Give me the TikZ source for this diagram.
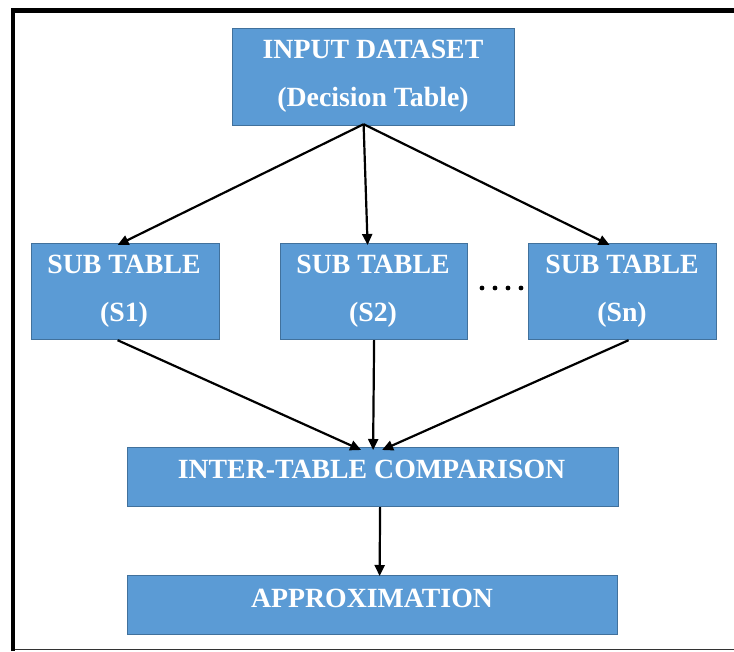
\documentclass[tikz,border=0pt]{standalone}
\usepackage{fontspec}
\setmainfont{Liberation Serif}
\usetikzlibrary{arrows.meta}
\definecolor{boxfill}{HTML}{5B9BD5}
\definecolor{boxline}{HTML}{41719C}
\begin{document}
\begin{tikzpicture}[x=1pt,y=-1pt,
  blk/.style={draw=boxline, fill=boxfill, line width=1.2pt, inner sep=0pt, anchor=north west},
  lbl/.style={text=white, font=\fontsize{27.8}{28}\selectfont\bfseries, anchor=base, inner sep=0pt},
  arr/.style={-{Triangle[length=11pt,width=10pt]}, line width=2.2pt}]
\useasboundingbox (0,0) rectangle (734,651);
% frame
\draw[line width=4.4pt] (13,651) -- (13,10.5) -- (734,10.5);
\draw[line width=1pt, black!80] (15,649) -- (734,649);
% boxes
\node[blk, minimum width=282pt, minimum height=97pt] (in) at (232,28) {};
\node[blk, minimum width=188pt, minimum height=96pt] (s1) at (31,243) {};
\node[blk, minimum width=187pt, minimum height=96pt] (s2) at (280,243) {};
\node[blk, minimum width=188pt, minimum height=96pt] (sn) at (528,243) {};
\node[blk, minimum width=491pt, minimum height=59pt] (cmp) at (127,447) {};
\node[blk, minimum width=490pt, minimum height=59pt] (apx) at (127,575) {};
% labels
\node[lbl] (t1) at (373,58) {INPUT DATASET};
\node[lbl] (t2) at (373,106) {(Decision Table)};
\node[lbl] (t3) at (124,273) {SUB TABLE};
\node[lbl] (t4) at (124,321) {(S1)};
\node[lbl] (t5) at (373,273) {SUB TABLE};
\node[lbl] (t6) at (373,321) {(S2)};
\node[lbl] (t7) at (622,273) {SUB TABLE};
\node[lbl] (t8) at (622,321) {(Sn)};
\node[lbl] (t9) at (371.5,478) {INTER-TABLE COMPARISON};
\node[lbl] (t10) at (372,607) {APPROXIMATION};
% dots
\foreach \i/\xx in {1/482,2/495,3/508,4/521}
  \fill (\xx,288) circle (2.4pt);
% arrows
\draw[arr] ([xshift=-10pt,yshift=2pt]in.south) -- ([xshift=-8pt,yshift=-2pt]s1.north);
\draw[arr] ([xshift=-10pt,yshift=2pt]in.south) -- ([xshift=-6.5pt,yshift=-2pt]s2.north);
\draw[arr] ([xshift=-10pt,yshift=2pt]in.south) -- ([xshift=-13pt,yshift=-2pt]sn.north);
\draw[arr] ([xshift=-8pt]s1.south) -- ([xshift=-12pt,yshift=-3pt]cmp.north);
\draw[arr] ([xshift=0pt]s2.south) -- ([xshift=0pt,yshift=-3pt]cmp.north);
\draw[arr] ([xshift=6pt]sn.south) -- ([xshift=9pt,yshift=-3pt]cmp.north);
\draw[arr] ([xshift=7pt]cmp.south) -- ([xshift=7pt,yshift=-1pt]apx.north);
\end{tikzpicture}
\end{document}
